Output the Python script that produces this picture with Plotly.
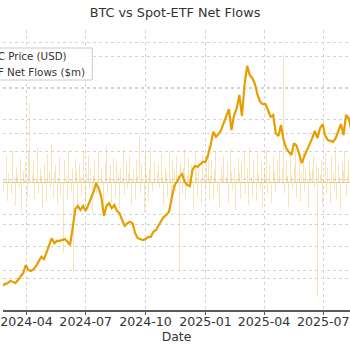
import pandas as pd
import plotly.graph_objects as go

# BTC price (USD, thousands), sampled every 4 days
price_start = "2024-02-24"
price_usd_k = [
    36.5, 36.9, 37.1, 37.6, 37.4, 37.1, 37.8, 38.5, 39.3, 41.1,
    40.0, 39.8, 40.2, 40.9, 42.0, 42.9, 42.4, 44.0, 45.7, 47.0,
    45.9, 46.4, 46.4, 46.6, 46.8, 46.2, 45.5, 49.2, 53.4, 54.1,
    53.2, 54.1, 53.0, 54.3, 55.6, 57.2, 59.1, 58.0, 56.1, 51.9,
    54.1, 54.7, 53.6, 54.3, 53.0, 52.5, 51.0, 49.7, 50.3, 50.6,
    50.3, 48.1, 47.0, 46.8, 46.6, 46.8, 47.3, 47.3, 48.4, 48.8,
    49.9, 50.8, 51.7, 52.1, 52.8, 55.4, 58.5, 59.4, 60.5, 61.1,
    59.4, 58.7, 58.5, 62.0, 62.9, 62.7, 63.3, 63.8, 63.8, 65.3,
    67.5, 70.4, 69.3, 69.9, 70.8, 72.3, 73.9, 75.4, 70.8, 74.1,
    75.6, 78.5, 73.9, 80.7, 84.9, 82.9, 82.2, 80.9, 78.5, 77.0,
    76.5, 76.5, 75.2, 73.7, 74.1, 70.1, 69.5, 71.9, 68.6, 66.8,
    66.0, 65.3, 67.9, 67.3, 65.5, 63.5, 65.1, 66.4, 67.5, 69.0,
    70.6, 69.0, 71.2, 72.1, 69.5, 68.6, 68.4, 68.2, 69.0, 70.8,
    72.1, 69.7, 74.1, 73.4, 70.8,
]

# Spot-ETF net flows ($m), sampled every 2 days
flow_start = "2024-02-24"
flows_m = [
    120, -60, 35, 210, -140, 80, 15, -90, 260, 45,
    -180, 130, 70, -40, 190, -220, 95, 20, 150, -110,
    240, 630, -70, 60, 175, -130, 30, 280, -85, 110,
    55, -200, 160, 25, -150, 230, 90, -45, 300, -120,
    75, 140, -170, 40, 205, -95, 10, -550, 180, 65,
    -135, 250, 30, -60, 120, -700, 190, 85, -210, 150,
    45, -100, 270, 15, -160, 95, 220, -55, 130, -240,
    60, 180, -90, 35, 245, -130, 110, 20, -185, 160,
    290, -70, 50, 140, -150, 200, 25, -110, 175, 80,
    -200, 120, 40, 260, -95, 155, -45, 70, 215, -170,
    30, 100, -125, 190, 55, 360, -80, 145, 20, -230,
    235, 65, -150, 110, 280, -60, 15, 170, -195, 90,
    140, -40, 225, 50, -175, 130, 75, -110, 255, 35,
    -145, 185, 95, -60, 210, 40, -700, 160, -90, 120,
    270, -130, 60, 195, -50, 140, 25, -210, 240, 85,
    -100, 165, 30, -170, 220, 70, -40, 150, 295, -140,
    55, 180, -115, 100, 250, -75, 20, -190, 135, 60,
    210, -95, 45, 175, -155, 265, 90, -60, 125, -220,
    35, 200, 80, -130, 155, 10, 240, -85, 115, -175,
    285, 50, -110, 190, 25, -145, 230, 70, -50, 165,
    -205, 120, 40, 260, -90, 145, 15, -160, 210, 95,
    -70, 180, 30, 250, -135, 110, 1010, -80, 175, 55,
    -190, 225, 65, -40, 140, 280, -115, 20, 195, -150,
    85, 240, -60, 125, 35, -200, 170, 90, 110, 215,
    -45, 150, -900, 120, 60, 185, -175, 30, 235, -85,
    115, 20, -160, 205, 75, -55, 290, -130, 140, 45,
    -210, 175, 95, 250, -100, 60, 190, -145, 130, 220,
]

tick_dates = ["2024-01-01", "2024-04-01", "2024-07-01", "2024-10-01",
              "2025-01-01", "2025-04-01", "2025-07-01"]
tick_labels = ["2024-01", "2024-04", "2024-07", "2024-10",
               "2025-01", "2025-04", "2025-07"]

price_dates = pd.date_range(price_start, periods=len(price_usd_k), freq="4D")
price_usd = [v * 1000 for v in price_usd_k]
flow_dates = pd.date_range(flow_start, periods=len(flows_m), freq="2D")

ORANGE = "#E69F00"
FONT = "DejaVu Sans"
TXT = "#333333"

fig = go.Figure()
fig.add_trace(go.Bar(
    x=flow_dates, y=flows_m, name="ETF Net Flows ($m)",
    marker=dict(color="rgba(230,159,0,0.28)", line=dict(width=0)),
    width=1.5 * 86400000, yaxis="y",
))
fig.add_trace(go.Scatter(
    x=price_dates, y=price_usd, name="BTC Price (USD)", mode="lines",
    line=dict(color=ORANGE, width=2.2), yaxis="y2",
))

grid = dict(showgrid=True, gridcolor="#d4d4d4", griddash="dot", gridwidth=1)

fig.update_layout(
    width=350, height=350,
    margin=dict(l=0, r=0, t=30, b=40),
    paper_bgcolor="white", plot_bgcolor="white",
    font=dict(family=FONT, color=TXT, size=12),
    showlegend=False,
    bargap=0,
    title=dict(text="BTC vs Spot-ETF Net Flows", x=0.5, xanchor="center",
               y=1 - 13 / 350, yanchor="middle", yref="container",
               font=dict(family=FONT, size=12.8, color=TXT)),
    xaxis=dict(
        type="date", range=["2024-02-25", "2025-08-11"],
        tickvals=tick_dates, ticktext=tick_labels, ticklabeloverflow="allow",
        ticklabelstandoff=-4,
        tickfont=dict(family=FONT, size=12.6, color=TXT),
        showline=True, linecolor="#5a5a5a", linewidth=2,
        ticks="outside", ticklen=3, tickcolor="#5a5a5a", tickwidth=1,
        title=dict(text="Date", font=dict(family=FONT, size=12.4, color=TXT), standoff=0),
        zeroline=False, **grid,
    ),
    yaxis=dict(
        range=[-1002, 1207], dtick=250, tick0=0, showticklabels=False,
        zeroline=True, zerolinecolor="#e3d3b0", zerolinewidth=1.2,
        showline=False, **grid,
    ),
    yaxis2=dict(
        overlaying="y", side="right", range=[31200, 92800], dtick=10000, tick0=0,
        showticklabels=False, zeroline=False, showline=False, **grid,
    ),
)

def py(px):
    return (310 - px) / 280

fig.add_shape(type="rect", xref="paper", yref="paper",
              x0=-0.3, x1=90 / 350, y0=py(80), y1=py(48),
              line=dict(color="#cccccc", width=1),
              fillcolor="rgba(255,255,255,0.85)", layer="above")
for label, ypx in [("BTC Price (USD)", 56), ("ETF Net Flows ($m)", 72)]:
    fig.add_annotation(text=label, xref="paper", yref="paper",
                       x=-20 / 350, y=py(ypx), xanchor="left", yanchor="middle",
                       showarrow=False, font=dict(family=FONT, size=10.3, color=TXT))

fig.write_html("out.html")
